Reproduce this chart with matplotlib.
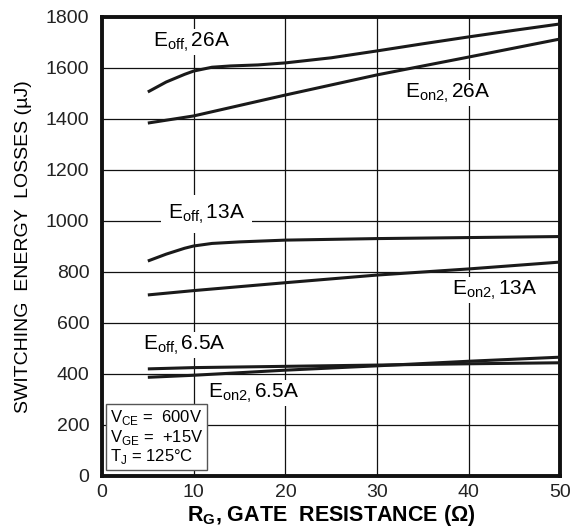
import matplotlib
matplotlib.use("Agg")
import matplotlib.pyplot as plt

plt.rcParams['font.family'] = ['Liberation Sans', 'DejaVu Sans']
plt.rcParams['mathtext.fontset'] = 'custom'
plt.rcParams['mathtext.rm'] = 'Liberation Sans'

eoff26_x = [5, 7, 9, 10, 12, 14, 17, 20, 25, 30, 35, 40, 45, 50]
eoff26_y = [1506, 1545, 1575, 1588, 1603, 1608, 1612, 1620, 1640, 1667, 1695, 1722, 1748, 1773]
eon26_x = [5, 10, 20, 30, 40, 50]
eon26_y = [1384, 1412, 1494, 1573, 1643, 1714]
eoff13_x = [5, 7, 9, 10, 12, 15, 20, 30, 40, 50]
eoff13_y = [843, 870, 893, 902, 912, 918, 925, 931, 935, 939]
eon13_x = [5, 10, 20, 30, 40, 50]
eon13_y = [710, 727, 758, 788, 812, 839]
eoff65_x = [5, 10, 20, 30, 40, 50]
eoff65_y = [420, 425, 430, 435, 440, 444]
eon65_x = [5, 10, 20, 30, 40, 50]
eon65_y = [387, 395, 415, 432, 450, 466]

xticks = [0, 10, 20, 30, 40, 50]
yticks = list(range(0, 1801, 200))

fig = plt.figure(figsize=(5.71, 5.31), dpi=100)
ax = fig.add_axes([0.1786, 0.1036, 0.8030, 0.8644])

for xs, ys in [(eoff26_x, eoff26_y), (eon26_x, eon26_y), (eoff13_x, eoff13_y),
               (eon13_x, eon13_y), (eoff65_x, eoff65_y), (eon65_x, eon65_y)]:
    ax.plot(xs, ys, color='#1a1a1a', lw=2.2, solid_capstyle='butt', zorder=3)

ax.set_xlim(0, 50)
ax.set_ylim(0, 1800)
ax.set_xticks(xticks)
ax.set_yticks(yticks)
ax.tick_params(length=0, labelsize=14, colors='#222222')
ax.tick_params(axis='y', pad=9)
ax.tick_params(axis='x', pad=6)
ax.grid(True, color='#111111', lw=0.9)
for s in ax.spines.values():
    s.set_linewidth(2.8)
    s.set_color('#111111')

ax.set_xlabel(r'R$_\mathregular{G}$, GATE  RESISTANCE (Ω)', fontsize=15.5, fontweight='bold', labelpad=1)
ax.set_ylabel('SWITCHING  ENERGY  LOSSES (µJ)', fontsize=14, labelpad=10)

bb = dict(facecolor='white', edgecolor='none', pad=1)
fs = 15
ax.text(5.6, 1702, r'E$_\mathregular{off,}$26A', fontsize=fs, va='center', ha='left', bbox=bb, zorder=4)
ax.text(33.0, 1502, r'E$_\mathregular{on2,}$26A', fontsize=fs, va='center', ha='left', bbox=bb, zorder=4)
ax.text(7.2, 1027, r'E$_\mathregular{off,}$13A', fontsize=fs, va='center', ha='left',
        bbox=dict(facecolor='white', edgecolor='none', pad=5), zorder=4)
ax.text(38.2, 729, r'E$_\mathregular{on2,}$13A', fontsize=fs, va='center', ha='left', bbox=bb, zorder=4)
ax.text(4.5, 514, r'E$_\mathregular{off,}$6.5A', fontsize=fs, va='center', ha='left', bbox=bb, zorder=4)
ax.text(11.6, 325, r'E$_\mathregular{on2,}$6.5A', fontsize=fs, va='center', ha='left', bbox=bb, zorder=4)

ax.text(0.85, 38, 'V$_\\mathregular{CE}$ =  600V\nV$_\\mathregular{GE}$ =  +15V\nT$_\\mathregular{J}$ = 125°C',
        fontsize=12, va='bottom', ha='left', linespacing=1.05,
        bbox=dict(facecolor='white', edgecolor='#555555', lw=1, pad=3), zorder=5)

fig.savefig('out.png', dpi=100)
